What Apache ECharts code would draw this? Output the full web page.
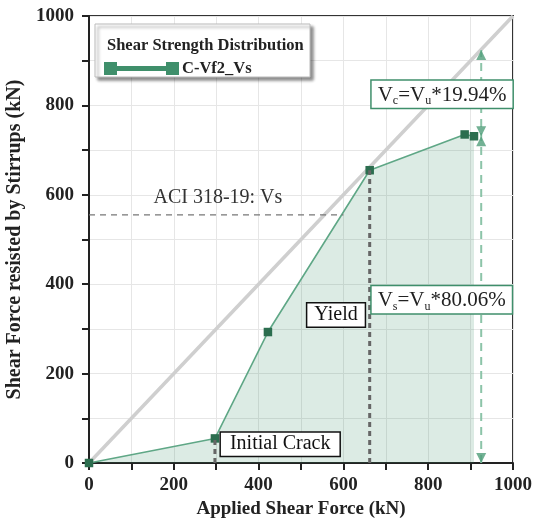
<!DOCTYPE html>
<html><head><meta charset="utf-8">
<script src="https://cdn.jsdelivr.net/npm/echarts@6/dist/echarts.min.js"></script>
<style>html,body{margin:0;padding:0;background:#fff}#c{width:535px;height:526px}</style>
</head><body><div id="c"></div>
<script>
// ---- data ----
const appliedForce = [0, 297, 422, 662, 886, 908];
const stirrupForce = [0, 55, 293, 655, 735, 731];
const seriesName = 'C-Vf2_Vs';
const legendTitle = 'Shear Strength Distribution';
const xTickLabels = [0, 200, 400, 600, 800, 1000];
const yTickLabels = [0, 200, 400, 600, 800, 1000];
const refLineX = [0, 1000];
const refLineY = [0, 1000];
const aciVs = 555;
const aciXRange = [0, 600];
const aciText = 'ACI 318-19: Vs';
const aciTextPos = [304, 593];
const crackForce = 297, crackVs = 55, crackLabelY = 42;
const yieldForce = 662, yieldVs = 655, yieldLabelY = 331;
const vuLineX = 925, vuTop = 924, vsLevel = 731;
const vsLabelY = 365, vcLabelY = 825;
const vsPercent = '80.06%', vcPercent = '19.94%';

const SERIF = '"Liberation Serif","DejaVu Serif",serif';
const GREEN = '#3f8f6b';

const mainData = appliedForce.map((x, i) => [x, stirrupForce[i]]);
const refData = refLineX.map((x, i) => [x, refLineY[i]]);
const aciData = aciXRange.map(x => [x, aciVs]);
const crackData = [[crackForce, 0], [crackForce, crackVs]];
const yieldData = [[yieldForce, 0], [yieldForce, yieldVs]];
const vuData = [[vuLineX, 0], [vuLineX, vuTop]];
const upTips = [[vuLineX, vuTop], [vuLineX, vsLevel]];
const downTips = [[vuLineX, vsLevel], [vuLineX, 0]];

const boxLabel = (pos, border) => ({
  show: true, position: pos, distance: 6,
  fontFamily: SERIF, fontSize: 20, color: '#111',
  backgroundColor: '#fff', borderColor: border, borderWidth: 1.5,
  padding: [2, 9, 1, 9]
});
const richVals = {
  m: { fontFamily: SERIF, fontSize: 21, color: '#222' },
  s: { fontFamily: SERIF, fontSize: 12, color: '#222', padding: [11, 0, 0, 0] }
};

const chart = echarts.init(document.getElementById('c'));
chart.setOption({
  animation: false,
  backgroundColor: '#fff',
  grid: { left: 89, right: 22, top: 16, bottom: 63, show: true, borderColor: '#333', borderWidth: 2, outerBoundsMode: 'none', containLabel: false },
  title: {
    text: legendTitle, left: 102, top: 32,
    textStyle: { fontFamily: SERIF, fontSize: 16.5, fontWeight: 'bold', color: '#222' }
  },
  graphic: [{
    type: 'rect', z: 3, shape: { x: 95, y: 24, width: 215, height: 53 },
    style: { fill: '#fff', stroke: '#bbb', lineWidth: 1, shadowBlur: 3, shadowOffsetX: 3, shadowOffsetY: 3, shadowColor: 'rgba(0,0,0,0.45)' }
  }],
  legend: {
    left: 99, top: 55, z: 10,
    data: [{ name: seriesName, itemStyle: { color: GREEN } }],
    icon: 'path://M0,0H13V13H0Z M62,0H75V13H62Z M13,4H62V9H13Z',
    itemWidth: 75, itemHeight: 13, itemGap: 4,
    textStyle: { fontFamily: SERIF, fontSize: 16.5, fontWeight: 'bold', color: '#222', padding: [0, 0, 0, -2] }
  },
  xAxis: {
    type: 'value', min: 0, max: 1000, interval: 100,
    name: 'Applied Shear Force (kN)', nameLocation: 'middle', nameGap: 34,
    nameTextStyle: { fontFamily: SERIF, fontSize: 19, fontWeight: 'bold', color: '#222' },
    axisLine: { show: true, onZero: false, lineStyle: { color: '#222', width: 2 } },
    axisTick: { show: true, length: 7, lineStyle: { color: '#222', width: 2 } },
    axisLabel: {
      margin: 13, fontFamily: SERIF, fontSize: 19, fontWeight: 'bold', color: '#222',
      formatter: v => xTickLabels.includes(v) ? String(v) : ''
    },
    splitLine: { show: true, lineStyle: { color: '#e6e6e6', width: 1 } }
  },
  yAxis: {
    type: 'value', min: 0, max: 1000, interval: 100,
    name: 'Shear Force resisted by Stirrups (kN)', nameLocation: 'middle', nameGap: 59,
    nameTextStyle: { fontFamily: SERIF, fontSize: 20, fontWeight: 'bold', color: '#222' },
    axisLine: { show: true, onZero: false, lineStyle: { color: '#222', width: 2 } },
    axisTick: { show: true, length: 7, lineStyle: { color: '#222', width: 2 } },
    axisLabel: {
      margin: 15, fontFamily: SERIF, fontSize: 19, fontWeight: 'bold', color: '#222',
      formatter: v => yTickLabels.includes(v) ? String(v) : ''
    },
    splitLine: { show: true, lineStyle: { color: '#e6e6e6', width: 1 } }
  },
  series: [
    {
      name: 'ref', type: 'line', data: refData, symbol: 'none', silent: true, z: 1,
      lineStyle: { color: '#cfcfcf', width: 3.5 }
    },
    {
      name: seriesName, type: 'line', data: mainData, z: 3,
      symbol: 'rect', symbolSize: 8.5,
      itemStyle: { color: '#2c6e4f' },
      lineStyle: { color: '#5fa786', width: 1.6 },
      areaStyle: { color: 'rgba(62,145,106,0.26)' }
    },
    {
      name: 'aci', type: 'line', data: aciData, symbol: 'none', z: 4,
      lineStyle: { color: '#777', width: 1.2, type: [6, 5] },
      markPoint: {
        symbol: 'circle', symbolSize: 0,
        data: [{ coord: aciTextPos }],
        label: { show: true, position: 'inside', formatter: aciText, fontFamily: SERIF, fontSize: 20, color: '#333' }
      }
    },
    {
      name: 'crack', type: 'line', data: crackData, symbol: 'none', z: 4,
      lineStyle: { color: '#666', width: 3, type: [5, 4] },
      markPoint: {
        symbol: 'circle', symbolSize: 0,
        data: [{ coord: [crackForce, crackLabelY] }],
        label: Object.assign(boxLabel('right', '#111'), { formatter: 'Initial Crack' })
      }
    },
    {
      name: 'yield', type: 'line', data: yieldData, symbol: 'none', z: 4,
      lineStyle: { color: '#666', width: 3, type: [5, 4] },
      markPoint: {
        symbol: 'circle', symbolSize: 0,
        data: [
          { coord: [yieldForce, yieldLabelY], label: Object.assign(boxLabel('left', '#111'), { formatter: 'Yield', distance: 5, padding: [2, 7, 1, 7] }) },
          { coord: [yieldForce, vsLabelY], label: Object.assign(boxLabel('right', GREEN), { distance: 2, padding: [3, 6, 1, 6], formatter: '{m|V}{s|s}{m|=V}{s|u}{m|*' + vsPercent + '}', rich: richVals }) },
          { coord: [yieldForce, vcLabelY], label: Object.assign(boxLabel('right', GREEN), { distance: 2, padding: [3, 6, 1, 6], formatter: '{m|V}{s|c}{m|=V}{s|u}{m|*' + vcPercent + '}', rich: richVals }) }
        ]
      }
    },
    {
      name: 'vu', type: 'line', data: vuData, symbol: 'none', z: 4,
      lineStyle: { color: '#8cc4a8', width: 2, type: [8, 6] }
    },
    {
      name: 'up', type: 'scatter', data: upTips, z: 5,
      symbol: 'triangle', symbolSize: [10, 10], symbolOffset: [0, 5],
      itemStyle: { color: '#4f9e79' }
    },
    {
      name: 'down', type: 'scatter', data: downTips, z: 5,
      symbol: 'triangle', symbolSize: [10, 10], symbolRotate: 180, symbolOffset: [0, -5],
      itemStyle: { color: '#4f9e79' }
    }
  ]
});
</script>
</body></html>
